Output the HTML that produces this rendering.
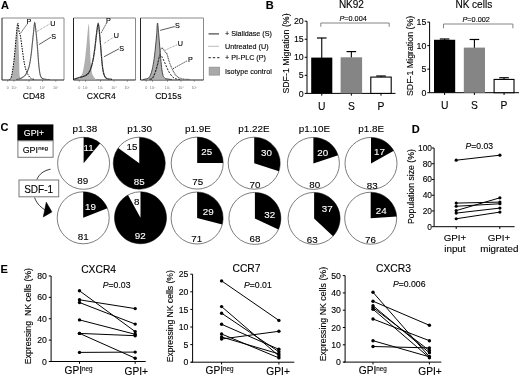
<!DOCTYPE html>
<html><head><meta charset="utf-8"><style>
html,body{margin:0;padding:0;background:#fff;}
svg{display:block;filter:blur(0.35px);}
text{font-family:"Liberation Sans",sans-serif;}
</style></head><body>
<svg width="520" height="377" viewBox="0 0 520 377">
<rect x="0" y="0" width="520" height="377" fill="#fff"/>
<text x="1.0" y="9.2" font-size="11" text-anchor="start" font-weight="bold" font-style="normal" fill="#000" stroke="#000" stroke-width="0.12" >A</text>
<text x="265.8" y="9.4" font-size="11" text-anchor="start" font-weight="bold" font-style="normal" fill="#000" stroke="#000" stroke-width="0.12" >B</text>
<text x="0.6" y="130.6" font-size="11" text-anchor="start" font-weight="bold" font-style="normal" fill="#000" stroke="#000" stroke-width="0.12" >C</text>
<text x="411.8" y="132.6" font-size="11" text-anchor="start" font-weight="bold" font-style="normal" fill="#000" stroke="#000" stroke-width="0.12" >D</text>
<text x="0.6" y="272.5" font-size="11" text-anchor="start" font-weight="bold" font-style="normal" fill="#000" stroke="#000" stroke-width="0.12" >E</text>
<line x1="2" y1="18" x2="64" y2="18" stroke="#8a8a8a" stroke-width="1" />
<line x1="64" y1="18" x2="64" y2="80" stroke="#8a8a8a" stroke-width="1" />
<line x1="2" y1="18" x2="2" y2="80" stroke="#222" stroke-width="1" />
<line x1="2" y1="80" x2="64" y2="80" stroke="#222" stroke-width="1.2" />
<line x1="73.5" y1="18" x2="135.5" y2="18" stroke="#8a8a8a" stroke-width="1" />
<line x1="135.5" y1="18" x2="135.5" y2="80" stroke="#8a8a8a" stroke-width="1" />
<line x1="73.5" y1="18" x2="73.5" y2="80" stroke="#222" stroke-width="1" />
<line x1="73.5" y1="80" x2="135.5" y2="80" stroke="#222" stroke-width="1.2" />
<line x1="140.5" y1="18" x2="203.5" y2="18" stroke="#8a8a8a" stroke-width="1" />
<line x1="203.5" y1="18" x2="203.5" y2="80" stroke="#8a8a8a" stroke-width="1" />
<line x1="140.5" y1="18" x2="140.5" y2="80" stroke="#222" stroke-width="1" />
<line x1="140.5" y1="80" x2="203.5" y2="80" stroke="#222" stroke-width="1.2" />
<line x1="7.7" y1="80" x2="7.7" y2="81.8" stroke="#555" stroke-width="0.6" />
<line x1="14" y1="80" x2="14" y2="81.8" stroke="#555" stroke-width="0.6" />
<line x1="29" y1="80" x2="29" y2="81.8" stroke="#555" stroke-width="0.6" />
<line x1="42.5" y1="80" x2="42.5" y2="81.8" stroke="#555" stroke-width="0.6" />
<line x1="55.8" y1="80" x2="55.8" y2="81.8" stroke="#555" stroke-width="0.6" />
<text x="7.7" y="89.4" font-size="3.7" text-anchor="middle" font-weight="normal" font-style="normal" fill="#777" stroke="#777" stroke-width="0" >0</text>
<text x="14" y="89.4" font-size="3.7" text-anchor="middle" font-weight="normal" font-style="normal" fill="#777" stroke="#777" stroke-width="0" >10²</text>
<text x="29" y="89.4" font-size="3.7" text-anchor="middle" font-weight="normal" font-style="normal" fill="#777" stroke="#777" stroke-width="0" >10³</text>
<text x="42.5" y="89.4" font-size="3.7" text-anchor="middle" font-weight="normal" font-style="normal" fill="#777" stroke="#777" stroke-width="0" >10⁴</text>
<text x="55.8" y="89.4" font-size="3.7" text-anchor="middle" font-weight="normal" font-style="normal" fill="#777" stroke="#777" stroke-width="0" >10⁵</text>
<line x1="79.2" y1="80" x2="79.2" y2="81.8" stroke="#555" stroke-width="0.6" />
<line x1="85.5" y1="80" x2="85.5" y2="81.8" stroke="#555" stroke-width="0.6" />
<line x1="100.5" y1="80" x2="100.5" y2="81.8" stroke="#555" stroke-width="0.6" />
<line x1="114.0" y1="80" x2="114.0" y2="81.8" stroke="#555" stroke-width="0.6" />
<line x1="127.3" y1="80" x2="127.3" y2="81.8" stroke="#555" stroke-width="0.6" />
<text x="79.2" y="89.4" font-size="3.7" text-anchor="middle" font-weight="normal" font-style="normal" fill="#777" stroke="#777" stroke-width="0" >0</text>
<text x="85.5" y="89.4" font-size="3.7" text-anchor="middle" font-weight="normal" font-style="normal" fill="#777" stroke="#777" stroke-width="0" >10²</text>
<text x="100.5" y="89.4" font-size="3.7" text-anchor="middle" font-weight="normal" font-style="normal" fill="#777" stroke="#777" stroke-width="0" >10³</text>
<text x="114.0" y="89.4" font-size="3.7" text-anchor="middle" font-weight="normal" font-style="normal" fill="#777" stroke="#777" stroke-width="0" >10⁴</text>
<text x="127.3" y="89.4" font-size="3.7" text-anchor="middle" font-weight="normal" font-style="normal" fill="#777" stroke="#777" stroke-width="0" >10⁵</text>
<line x1="146.2" y1="80" x2="146.2" y2="81.8" stroke="#555" stroke-width="0.6" />
<line x1="152.5" y1="80" x2="152.5" y2="81.8" stroke="#555" stroke-width="0.6" />
<line x1="167.5" y1="80" x2="167.5" y2="81.8" stroke="#555" stroke-width="0.6" />
<line x1="181.0" y1="80" x2="181.0" y2="81.8" stroke="#555" stroke-width="0.6" />
<line x1="194.3" y1="80" x2="194.3" y2="81.8" stroke="#555" stroke-width="0.6" />
<text x="146.2" y="89.4" font-size="3.7" text-anchor="middle" font-weight="normal" font-style="normal" fill="#777" stroke="#777" stroke-width="0" >0</text>
<text x="152.5" y="89.4" font-size="3.7" text-anchor="middle" font-weight="normal" font-style="normal" fill="#777" stroke="#777" stroke-width="0" >10²</text>
<text x="167.5" y="89.4" font-size="3.7" text-anchor="middle" font-weight="normal" font-style="normal" fill="#777" stroke="#777" stroke-width="0" >10³</text>
<text x="181.0" y="89.4" font-size="3.7" text-anchor="middle" font-weight="normal" font-style="normal" fill="#777" stroke="#777" stroke-width="0" >10⁴</text>
<text x="194.3" y="89.4" font-size="3.7" text-anchor="middle" font-weight="normal" font-style="normal" fill="#777" stroke="#777" stroke-width="0" >10⁵</text>
<text x="33.7" y="99.4" font-size="8.6" text-anchor="middle" font-weight="normal" font-style="normal" fill="#000" stroke="#000" stroke-width="0.12" >CD48</text>
<text x="101.3" y="99.4" font-size="8.6" text-anchor="middle" font-weight="normal" font-style="normal" fill="#000" stroke="#000" stroke-width="0.12" >CXCR4</text>
<text x="168.3" y="99.4" font-size="8.6" text-anchor="middle" font-weight="normal" font-style="normal" fill="#000" stroke="#000" stroke-width="0.12" >CD15s</text>
<path d="M9.50,79.50 C9.73,79.28 10.43,79.42 10.90,78.20 C11.37,76.98 11.82,74.93 12.30,72.20 C12.78,69.47 13.32,65.83 13.80,61.80 C14.28,57.77 14.77,52.60 15.20,48.00 C15.63,43.40 16.03,38.37 16.40,34.20 C16.77,30.03 17.12,23.00 17.40,23.00 C17.68,23.00 17.88,30.03 18.10,34.20 C18.32,38.37 18.52,43.40 18.70,48.00 C18.88,52.60 19.07,57.48 19.20,61.80 C19.33,66.12 19.30,71.17 19.50,73.90 C19.70,76.63 20.07,77.27 20.40,78.20 C20.73,79.13 21.32,79.28 21.50,79.50 Z" stroke="none" stroke-width="1" fill="#b0b0b0"  stroke-linejoin="round" />
<path d="M9.50,79.50 C9.73,79.28 10.43,79.42 10.90,78.20 C11.37,76.98 11.82,74.93 12.30,72.20 C12.78,69.47 13.32,65.83 13.80,61.80 C14.28,57.77 14.77,52.60 15.20,48.00 C15.63,43.40 15.97,38.37 16.40,34.20 C16.83,30.03 17.33,23.28 17.80,23.00 C18.27,22.72 18.77,30.33 19.20,32.50 C19.63,34.67 19.92,33.42 20.40,36.00 C20.88,38.58 21.53,43.98 22.10,48.00 C22.67,52.02 23.22,56.65 23.80,60.10 C24.38,63.55 24.88,66.25 25.60,68.70 C26.32,71.15 27.25,73.22 28.10,74.80 C28.95,76.38 29.68,77.43 30.70,78.20 C31.72,78.97 33.62,79.20 34.20,79.40" stroke="#000" stroke-width="1" fill="none" stroke-dasharray="1.5,1.1" stroke-linejoin="round" />
<path d="M16.00,79.50 C16.30,79.48 16.93,79.62 17.80,79.40 C18.67,79.18 19.90,78.97 21.20,78.20 C22.50,77.43 24.30,76.67 25.60,74.80 C26.90,72.93 28.08,70.32 29.00,67.00 C29.92,63.68 30.53,58.92 31.10,54.90 C31.67,50.88 31.97,46.92 32.40,42.90 C32.83,38.88 33.32,34.25 33.70,30.80 C34.08,27.35 34.33,22.20 34.70,22.20 C35.07,22.20 35.50,27.35 35.90,30.80 C36.30,34.25 36.75,38.88 37.10,42.90 C37.45,46.92 37.68,50.88 38.00,54.90 C38.32,58.92 38.63,63.68 39.00,67.00 C39.37,70.32 39.72,72.93 40.20,74.80 C40.68,76.67 41.03,77.43 41.90,78.20 C42.77,78.97 44.05,79.18 45.40,79.40 C46.75,79.62 49.23,79.48 50.00,79.50" stroke="#6a6a6a" stroke-width="1.1" fill="none"  stroke-linejoin="round" />
<path d="M16.00,79.50 C16.30,79.48 16.93,79.62 17.80,79.40 C18.67,79.18 19.90,78.97 21.20,78.20 C22.50,77.43 24.30,76.67 25.60,74.80 C26.90,72.93 28.08,70.32 29.00,67.00 C29.92,63.68 30.53,58.92 31.10,54.90 C31.67,50.88 31.97,46.92 32.40,42.90 C32.83,38.88 33.32,34.25 33.70,30.80 C34.08,27.35 34.33,22.20 34.70,22.20 C35.07,22.20 35.50,27.35 35.90,30.80 C36.30,34.25 36.75,38.88 37.10,42.90 C37.45,46.92 37.68,50.88 38.00,54.90 C38.32,58.92 38.63,63.68 39.00,67.00 C39.37,70.32 39.72,72.93 40.20,74.80 C40.68,76.67 41.03,77.43 41.90,78.20 C42.77,78.97 44.05,79.18 45.40,79.40 C46.75,79.62 49.23,79.48 50.00,79.50" stroke="#444" stroke-width="0.6" fill="none" stroke-dasharray="0.8,0.8" stroke-linejoin="round" />
<path d="M20.4,33.4 L27.3,23.9" stroke="#000" stroke-width="0.8" fill="none" stroke-dasharray="1.4,1" stroke-linejoin="round" />
<path d="M36.9,31.5 L49.5,24.1" stroke="#888" stroke-width="0.9" fill="none" stroke-dasharray="0.9,0.8" stroke-linejoin="round" />
<path d="M39.1,44.5 L51,37.1" stroke="#333" stroke-width="0.8" fill="none"  stroke-linejoin="round" />
<text x="29" y="24.3" font-size="7.2" text-anchor="middle" font-weight="normal" font-style="normal" fill="#000" stroke="#000" stroke-width="0.12" >P</text>
<text x="52.9" y="26.3" font-size="7.2" text-anchor="middle" font-weight="normal" font-style="normal" fill="#000" stroke="#000" stroke-width="0.12" >U</text>
<text x="53.7" y="39.3" font-size="7.2" text-anchor="middle" font-weight="normal" font-style="normal" fill="#000" stroke="#000" stroke-width="0.12" >S</text>
<path d="M78.50,79.50 C78.72,79.20 79.10,78.92 79.80,77.70 C80.50,76.48 81.85,75.13 82.70,72.20 C83.55,69.27 84.23,64.98 84.90,60.10 C85.57,55.22 86.07,48.93 86.70,42.90 C87.33,36.87 88.18,23.90 88.70,23.90 C89.22,23.90 89.48,36.87 89.80,42.90 C90.12,48.93 90.27,55.22 90.60,60.10 C90.93,64.98 91.17,69.27 91.80,72.20 C92.43,75.13 93.62,76.48 94.40,77.70 C95.18,78.92 96.15,79.20 96.50,79.50 Z" stroke="none" stroke-width="1" fill="#b0b0b0"  stroke-linejoin="round" />
<path d="M74.00,79.20 C74.82,78.95 76.93,78.30 78.90,77.70 C80.87,77.10 83.93,76.82 85.80,75.60 C87.67,74.38 88.90,72.98 90.10,70.40 C91.30,67.82 92.20,63.83 93.00,60.10 C93.80,56.37 94.32,52.32 94.90,48.00 C95.48,43.68 95.95,38.37 96.50,34.20 C97.05,30.03 97.68,23.00 98.20,23.00 C98.72,23.00 99.17,30.03 99.60,34.20 C100.03,38.37 100.43,43.68 100.80,48.00 C101.17,52.32 101.43,56.37 101.80,60.10 C102.17,63.83 102.50,67.67 103.00,70.40 C103.50,73.13 104.08,75.12 104.80,76.50 C105.52,77.88 106.10,78.23 107.30,78.70 C108.50,79.17 111.22,79.20 112.00,79.30" stroke="#111" stroke-width="1.2" fill="none"  stroke-linejoin="round" />
<path d="M74.00,79.20 C74.82,78.95 76.93,78.30 78.90,77.70 C80.87,77.10 83.93,76.82 85.80,75.60 C87.67,74.38 88.90,72.98 90.10,70.40 C91.30,67.82 92.20,63.83 93.00,60.10 C93.80,56.37 94.32,52.32 94.90,48.00 C95.48,43.68 95.95,38.37 96.50,34.20 C97.05,30.03 97.68,23.00 98.20,23.00 C98.72,23.00 99.17,30.03 99.60,34.20 C100.03,38.37 100.43,43.68 100.80,48.00 C101.17,52.32 101.43,56.37 101.80,60.10 C102.17,63.83 102.50,67.67 103.00,70.40 C103.50,73.13 104.08,75.12 104.80,76.50 C105.52,77.88 106.10,78.23 107.30,78.70 C108.50,79.17 111.22,79.20 112.00,79.30" stroke="#888" stroke-width="0.7" fill="none" stroke-dasharray="1.5,1.2" stroke-linejoin="round" />
<path d="M101.2,32.8 L106.6,23" stroke="#000" stroke-width="0.8" fill="none" stroke-dasharray="1.4,1" stroke-linejoin="round" />
<path d="M103.9,43.5 L113.7,37.2" stroke="#888" stroke-width="0.9" fill="none" stroke-dasharray="0.9,0.8" stroke-linejoin="round" />
<path d="M103.9,56.8 L119,48.8" stroke="#333" stroke-width="0.8" fill="none"  stroke-linejoin="round" />
<text x="108.4" y="23" font-size="7.2" text-anchor="middle" font-weight="normal" font-style="normal" fill="#000" stroke="#000" stroke-width="0.12" >P</text>
<text x="116.4" y="38.2" font-size="7.2" text-anchor="middle" font-weight="normal" font-style="normal" fill="#000" stroke="#000" stroke-width="0.12" >U</text>
<text x="121.7" y="50.6" font-size="7.2" text-anchor="middle" font-weight="normal" font-style="normal" fill="#000" stroke="#000" stroke-width="0.12" >S</text>
<path d="M147.00,79.50 C147.32,79.20 148.15,78.92 148.90,77.70 C149.65,76.48 150.70,74.85 151.50,72.20 C152.30,69.55 153.05,65.83 153.70,61.80 C154.35,57.77 154.90,52.60 155.40,48.00 C155.90,43.40 156.35,38.37 156.70,34.20 C157.05,30.03 157.17,23.00 157.50,23.00 C157.83,23.00 158.32,30.03 158.70,34.20 C159.08,38.37 159.42,43.40 159.80,48.00 C160.18,52.60 160.58,57.77 161.00,61.80 C161.42,65.83 161.87,69.55 162.30,72.20 C162.73,74.85 163.15,76.48 163.60,77.70 C164.05,78.92 164.77,79.20 165.00,79.50 Z" stroke="none" stroke-width="1" fill="#b0b0b0"  stroke-linejoin="round" />
<path d="M143.00,79.50 C143.40,79.42 144.42,79.30 145.40,79.00 C146.38,78.70 147.88,78.83 148.90,77.70 C149.92,76.57 150.70,74.85 151.50,72.20 C152.30,69.55 153.05,65.83 153.70,61.80 C154.35,57.77 154.90,52.60 155.40,48.00 C155.90,43.40 156.35,38.37 156.70,34.20 C157.05,30.03 157.17,23.00 157.50,23.00 C157.83,23.00 158.32,30.03 158.70,34.20 C159.08,38.37 159.42,43.40 159.80,48.00 C160.18,52.60 160.58,57.77 161.00,61.80 C161.42,65.83 161.78,69.55 162.30,72.20 C162.82,74.85 163.17,76.57 164.10,77.70 C165.03,78.83 166.58,78.70 167.90,79.00 C169.22,79.30 171.32,79.42 172.00,79.50" stroke="#3a3a3a" stroke-width="0.9" fill="none"  stroke-linejoin="round" />
<path d="M149.00,79.30 C149.55,79.03 151.02,79.47 152.30,77.70 C153.58,75.93 155.55,72.20 156.70,68.70 C157.85,65.20 158.55,59.85 159.20,56.70 C159.85,53.55 160.17,51.25 160.60,49.80 C161.03,48.35 161.17,47.87 161.80,48.00 C162.43,48.13 163.53,49.58 164.40,50.60 C165.27,51.62 166.28,52.52 167.00,54.10 C167.72,55.68 167.98,57.95 168.70,60.10 C169.42,62.25 170.28,64.70 171.30,67.00 C172.32,69.30 173.65,72.18 174.80,73.90 C175.95,75.62 176.77,76.45 178.20,77.30 C179.63,78.15 181.43,78.63 183.40,79.00 C185.37,79.37 188.90,79.42 190.00,79.50" stroke="#555" stroke-width="1.1" fill="none" stroke-dasharray="1.1,0.6" stroke-linejoin="round" />
<path d="M150.00,79.30 C150.53,79.03 152.08,79.75 153.20,77.70 C154.32,75.65 155.70,70.37 156.70,67.00 C157.70,63.63 158.55,59.52 159.20,57.50 C159.85,55.48 160.08,54.90 160.60,54.90 C161.12,54.90 161.67,56.35 162.30,57.50 C162.93,58.65 163.62,60.07 164.40,61.80 C165.18,63.53 166.13,66.03 167.00,67.90 C167.87,69.77 168.60,71.43 169.60,73.00 C170.60,74.57 171.85,76.30 173.00,77.30 C174.15,78.30 175.33,78.63 176.50,79.00 C177.67,79.37 179.42,79.42 180.00,79.50" stroke="#222" stroke-width="1" fill="none" stroke-dasharray="2,1.3" stroke-linejoin="round" />
<path d="M160.1,30.4 L174.8,26.5" stroke="#333" stroke-width="0.8" fill="none"  stroke-linejoin="round" />
<path d="M165.3,50.1 L177.3,44.6" stroke="#888" stroke-width="0.9" fill="none" stroke-dasharray="0.9,0.8" stroke-linejoin="round" />
<path d="M173,68.7 L186.8,61" stroke="#000" stroke-width="0.8" fill="none" stroke-dasharray="1.4,1" stroke-linejoin="round" />
<text x="177.3" y="27.9" font-size="7.2" text-anchor="middle" font-weight="normal" font-style="normal" fill="#000" stroke="#000" stroke-width="0.12" >S</text>
<text x="180.3" y="46.3" font-size="7.2" text-anchor="middle" font-weight="normal" font-style="normal" fill="#000" stroke="#000" stroke-width="0.12" >U</text>
<text x="190.3" y="61.8" font-size="7.2" text-anchor="middle" font-weight="normal" font-style="normal" fill="#000" stroke="#000" stroke-width="0.12" >P</text>
<line x1="208.5" y1="33.9" x2="219" y2="33.9" stroke="#333" stroke-width="1.1" />
<line x1="208.5" y1="46.3" x2="219" y2="46.3" stroke="#777" stroke-width="1" stroke-dasharray="1,1"/>
<line x1="208.5" y1="57.7" x2="219.5" y2="57.7" stroke="#222" stroke-width="1" stroke-dasharray="2.4,1.9"/>
<rect x="209.2" y="67.2" width="10.2" height="7.9" fill="#a9a9a9" stroke="#8f8f8f" stroke-width="0.8" />
<text x="225" y="36.4" font-size="7.2" text-anchor="start" font-weight="normal" font-style="normal" fill="#000" stroke="#000" stroke-width="0.12" >+ Sialidase (S)</text>
<text x="225" y="48.8" font-size="7.2" text-anchor="start" font-weight="normal" font-style="normal" fill="#000" stroke="#000" stroke-width="0.12" >Untreated (U)</text>
<text x="225" y="60.2" font-size="7.2" text-anchor="start" font-weight="normal" font-style="normal" fill="#000" stroke="#000" stroke-width="0.12" >+ PI-PLC (P)</text>
<text x="225" y="73.6" font-size="7.2" text-anchor="start" font-weight="normal" font-style="normal" fill="#000" stroke="#000" stroke-width="0.12" >Isotype control</text>
<line x1="307.0" y1="21.200000000000003" x2="307.0" y2="93.4" stroke="#000" stroke-width="1" />
<line x1="307.0" y1="93.4" x2="395.5" y2="93.4" stroke="#000" stroke-width="1" />
<line x1="304.7" y1="93.4" x2="307.0" y2="93.4" stroke="#000" stroke-width="1" />
<text x="303.7" y="96.5" font-size="8.8" text-anchor="end" font-weight="normal" font-style="normal" fill="#000" stroke="#000" stroke-width="0.12" >0</text>
<line x1="304.7" y1="75.35000000000001" x2="307.0" y2="75.35000000000001" stroke="#000" stroke-width="1" />
<text x="303.7" y="78.45" font-size="8.8" text-anchor="end" font-weight="normal" font-style="normal" fill="#000" stroke="#000" stroke-width="0.12" >5</text>
<line x1="304.7" y1="57.300000000000004" x2="307.0" y2="57.300000000000004" stroke="#000" stroke-width="1" />
<text x="303.7" y="60.400000000000006" font-size="8.8" text-anchor="end" font-weight="normal" font-style="normal" fill="#000" stroke="#000" stroke-width="0.12" >10</text>
<line x1="304.7" y1="39.25000000000001" x2="307.0" y2="39.25000000000001" stroke="#000" stroke-width="1" />
<text x="303.7" y="42.35000000000001" font-size="8.8" text-anchor="end" font-weight="normal" font-style="normal" fill="#000" stroke="#000" stroke-width="0.12" >15</text>
<line x1="304.7" y1="21.200000000000003" x2="307.0" y2="21.200000000000003" stroke="#000" stroke-width="1" />
<text x="303.7" y="24.300000000000004" font-size="8.8" text-anchor="end" font-weight="normal" font-style="normal" fill="#000" stroke="#000" stroke-width="0.12" >20</text>
<line x1="321.75" y1="58.09420000000001" x2="321.75" y2="37.98650000000001" stroke="#000" stroke-width="1.1" />
<line x1="316.95" y1="37.98650000000001" x2="326.55" y2="37.98650000000001" stroke="#000" stroke-width="1.2" />
<rect x="311.2" y="57.59420000000001" width="21.100000000000023" height="35.8058" fill="#000" stroke="none" stroke-width="1" />
<line x1="321.75" y1="93.4" x2="321.75" y2="95.7" stroke="#000" stroke-width="1" />
<line x1="351.35" y1="57.805400000000006" x2="351.35" y2="51.59620000000001" stroke="#000" stroke-width="1.1" />
<line x1="346.55" y1="51.59620000000001" x2="356.15000000000003" y2="51.59620000000001" stroke="#000" stroke-width="1.2" />
<rect x="340.6" y="57.305400000000006" width="21.5" height="36.0946" fill="#858585" stroke="none" stroke-width="1" />
<line x1="351.35" y1="93.4" x2="351.35" y2="95.7" stroke="#000" stroke-width="1" />
<line x1="381.0" y1="77.0828" x2="381.0" y2="75.99980000000001" stroke="#000" stroke-width="1.1" />
<line x1="376.2" y1="75.99980000000001" x2="385.8" y2="75.99980000000001" stroke="#000" stroke-width="1.2" />
<rect x="370.8" y="77.0828" width="20.399999999999977" height="16.3172" fill="#fff" stroke="#000" stroke-width="1.1" />
<line x1="381.0" y1="93.4" x2="381.0" y2="95.7" stroke="#000" stroke-width="1" />
<path d="M320.8,26.8 L320.8,23.0 L389.2,23.0 L389.2,26.8" stroke="#777" stroke-width="0.9" fill="none"  stroke-linejoin="round" />
<text x="353.1" y="20.8" font-size="7.3" text-anchor="middle" font-weight="normal" font-style="normal" fill="#000" stroke="#000" stroke-width="0.12" ><tspan font-style="italic">P</tspan>=0.004</text>
<text x="351.4" y="8.0" font-size="10.0" text-anchor="middle" font-weight="normal" font-style="normal" fill="#000" stroke="#000" stroke-width="0.12" >NK92</text>
<text x="289.1" y="53.5" font-size="8.8" text-anchor="middle" fill="#000" stroke="#000" stroke-width="0.12" transform="rotate(-90 289.1 53.5)">SDF-1 Migration (%)</text>
<text x="321.75" y="110.2" font-size="10.3" text-anchor="middle" font-weight="normal" font-style="normal" fill="#000" stroke="#000" stroke-width="0.12" >U</text>
<text x="351.35" y="110.2" font-size="10.3" text-anchor="middle" font-weight="normal" font-style="normal" fill="#000" stroke="#000" stroke-width="0.12" >S</text>
<text x="381.0" y="110.2" font-size="10.3" text-anchor="middle" font-weight="normal" font-style="normal" fill="#000" stroke="#000" stroke-width="0.12" >P</text>
<line x1="429.6" y1="22.049999999999997" x2="429.6" y2="92.7" stroke="#000" stroke-width="1" />
<line x1="429.6" y1="92.7" x2="519" y2="92.7" stroke="#000" stroke-width="1" />
<line x1="427.3" y1="92.7" x2="429.6" y2="92.7" stroke="#000" stroke-width="1" />
<text x="426.3" y="95.8" font-size="8.8" text-anchor="end" font-weight="normal" font-style="normal" fill="#000" stroke="#000" stroke-width="0.12" >0</text>
<line x1="427.3" y1="69.15" x2="429.6" y2="69.15" stroke="#000" stroke-width="1" />
<text x="426.3" y="72.25" font-size="8.8" text-anchor="end" font-weight="normal" font-style="normal" fill="#000" stroke="#000" stroke-width="0.12" >5</text>
<line x1="427.3" y1="45.6" x2="429.6" y2="45.6" stroke="#000" stroke-width="1" />
<text x="426.3" y="48.7" font-size="8.8" text-anchor="end" font-weight="normal" font-style="normal" fill="#000" stroke="#000" stroke-width="0.12" >10</text>
<line x1="427.3" y1="22.049999999999997" x2="429.6" y2="22.049999999999997" stroke="#000" stroke-width="1" />
<text x="426.3" y="25.15" font-size="8.8" text-anchor="end" font-weight="normal" font-style="normal" fill="#000" stroke="#000" stroke-width="0.12" >15</text>
<line x1="444.6" y1="40.2777" x2="444.6" y2="39.006" stroke="#000" stroke-width="1.1" />
<line x1="439.8" y1="39.006" x2="449.40000000000003" y2="39.006" stroke="#000" stroke-width="1.2" />
<rect x="434.0" y="39.7777" width="21.19999999999999" height="52.9223" fill="#000" stroke="none" stroke-width="1" />
<line x1="444.6" y1="92.7" x2="444.6" y2="95.0" stroke="#000" stroke-width="1" />
<line x1="474.4" y1="48.0963" x2="474.4" y2="39.477" stroke="#000" stroke-width="1.1" />
<line x1="469.59999999999997" y1="39.477" x2="479.2" y2="39.477" stroke="#000" stroke-width="1.2" />
<rect x="463.8" y="47.5963" width="21.19999999999999" height="45.1037" fill="#858585" stroke="none" stroke-width="1" />
<line x1="474.4" y1="92.7" x2="474.4" y2="95.0" stroke="#000" stroke-width="1" />
<line x1="504.05" y1="79.4178" x2="504.05" y2="77.7222" stroke="#000" stroke-width="1.1" />
<line x1="499.25" y1="77.7222" x2="508.85" y2="77.7222" stroke="#000" stroke-width="1.2" />
<rect x="494.1" y="79.4178" width="19.899999999999977" height="13.282200000000003" fill="#fff" stroke="#000" stroke-width="1.1" />
<line x1="504.05" y1="92.7" x2="504.05" y2="95.0" stroke="#000" stroke-width="1" />
<path d="M443.5,28.3 L443.5,24 L512.9,24 L512.9,28.3" stroke="#777" stroke-width="0.9" fill="none"  stroke-linejoin="round" />
<text x="476.2" y="21.9" font-size="7.3" text-anchor="middle" font-weight="normal" font-style="normal" fill="#000" stroke="#000" stroke-width="0.12" ><tspan font-style="italic">P</tspan>=0.002</text>
<text x="473.8" y="8.1" font-size="10.0" text-anchor="middle" font-weight="normal" font-style="normal" fill="#000" stroke="#000" stroke-width="0.12" >NK cells</text>
<text x="413.1" y="55.9" font-size="8.8" text-anchor="middle" fill="#000" stroke="#000" stroke-width="0.12" transform="rotate(-90 413.1 55.9)">SDF-1 Migration (%)</text>
<text x="444.6" y="108.7" font-size="10.3" text-anchor="middle" font-weight="normal" font-style="normal" fill="#000" stroke="#000" stroke-width="0.12" >U</text>
<text x="474.4" y="108.7" font-size="10.3" text-anchor="middle" font-weight="normal" font-style="normal" fill="#000" stroke="#000" stroke-width="0.12" >S</text>
<text x="504.05" y="108.7" font-size="10.3" text-anchor="middle" font-weight="normal" font-style="normal" fill="#000" stroke="#000" stroke-width="0.12" >P</text>
<text x="84.8" y="131.6" font-size="9.9" text-anchor="middle" font-weight="normal" font-style="normal" fill="#000" stroke="#000" stroke-width="0.12" >p1.38</text>
<text x="139.6" y="131.6" font-size="9.9" text-anchor="middle" font-weight="normal" font-style="normal" fill="#000" stroke="#000" stroke-width="0.12" >p1.30</text>
<text x="198.0" y="131.6" font-size="9.9" text-anchor="middle" font-weight="normal" font-style="normal" fill="#000" stroke="#000" stroke-width="0.12" >p1.9E</text>
<text x="254.0" y="131.6" font-size="9.9" text-anchor="middle" font-weight="normal" font-style="normal" fill="#000" stroke="#000" stroke-width="0.12" >p1.22E</text>
<text x="314.5" y="131.6" font-size="9.9" text-anchor="middle" font-weight="normal" font-style="normal" fill="#000" stroke="#000" stroke-width="0.12" >p1.10E</text>
<text x="371.1" y="131.6" font-size="9.9" text-anchor="middle" font-weight="normal" font-style="normal" fill="#000" stroke="#000" stroke-width="0.12" >p1.8E</text>
<circle cx="83.6" cy="163.3" r="26.0" fill="#fff" stroke="#6e6e6e" stroke-width="0.9"/>
<path d="M83.6,163.3 L83.6,137.3 A26.0,26.0 0 0 1 100.17,143.27 Z" fill="#000"/>
<text x="88.5" y="150.7" font-size="9.8" text-anchor="middle" font-weight="normal" font-style="normal" fill="#fff" stroke="#fff" stroke-width="0.12" >11</text>
<text x="82.8" y="183.9" font-size="9.8" text-anchor="middle" font-weight="normal" font-style="normal" fill="#000" stroke="#000" stroke-width="0.12" >89</text>
<circle cx="139.25" cy="163.2" r="26.0" fill="#fff" stroke="#6e6e6e" stroke-width="0.9"/>
<path d="M139.25,163.2 L139.25,137.2 A26.0,26.0 0 1 1 118.22,147.92 Z" fill="#000"/>
<text x="139.2" y="184.5" font-size="9.8" text-anchor="middle" font-weight="normal" font-style="normal" fill="#fff" stroke="#fff" stroke-width="0.12" >85</text>
<text x="131.9" y="149.9" font-size="9.8" text-anchor="middle" font-weight="normal" font-style="normal" fill="#000" stroke="#000" stroke-width="0.12" >15</text>
<circle cx="197.2" cy="163.1" r="26.0" fill="#fff" stroke="#6e6e6e" stroke-width="0.9"/>
<path d="M197.2,163.1 L197.2,137.1 A26.0,26.0 0 0 1 223.20,163.10 Z" fill="#000"/>
<text x="206.7" y="154.8" font-size="9.8" text-anchor="middle" font-weight="normal" font-style="normal" fill="#fff" stroke="#fff" stroke-width="0.12" >25</text>
<text x="197.7" y="185.2" font-size="9.8" text-anchor="middle" font-weight="normal" font-style="normal" fill="#000" stroke="#000" stroke-width="0.12" >75</text>
<circle cx="254.2" cy="163.2" r="26.0" fill="#fff" stroke="#6e6e6e" stroke-width="0.9"/>
<path d="M254.2,163.2 L254.2,137.2 A26.0,26.0 0 0 1 278.93,171.23 Z" fill="#000"/>
<text x="266.4" y="156.1" font-size="9.8" text-anchor="middle" font-weight="normal" font-style="normal" fill="#fff" stroke="#fff" stroke-width="0.12" >30</text>
<text x="255.0" y="188.0" font-size="9.8" text-anchor="middle" font-weight="normal" font-style="normal" fill="#000" stroke="#000" stroke-width="0.12" >70</text>
<circle cx="313.4" cy="163.4" r="26.0" fill="#fff" stroke="#6e6e6e" stroke-width="0.9"/>
<path d="M313.4,163.4 L313.4,137.4 A26.0,26.0 0 0 1 338.13,155.37 Z" fill="#000"/>
<text x="322.8" y="156.3" font-size="9.8" text-anchor="middle" font-weight="normal" font-style="normal" fill="#fff" stroke="#fff" stroke-width="0.12" >20</text>
<text x="314.7" y="187.8" font-size="9.8" text-anchor="middle" font-weight="normal" font-style="normal" fill="#000" stroke="#000" stroke-width="0.12" >80</text>
<circle cx="371.0" cy="163.4" r="26.0" fill="#fff" stroke="#6e6e6e" stroke-width="0.9"/>
<path d="M371.0,163.4 L371.0,137.4 A26.0,26.0 0 0 1 393.78,150.87 Z" fill="#000"/>
<text x="379.4" y="155.0" font-size="9.8" text-anchor="middle" font-weight="normal" font-style="normal" fill="#fff" stroke="#fff" stroke-width="0.12" >17</text>
<text x="372.2" y="188.6" font-size="9.8" text-anchor="middle" font-weight="normal" font-style="normal" fill="#000" stroke="#000" stroke-width="0.12" >83</text>
<circle cx="83.2" cy="217.8" r="26.0" fill="#fff" stroke="#6e6e6e" stroke-width="0.9"/>
<path d="M83.2,217.8 L83.2,191.8 A26.0,26.0 0 0 1 107.37,208.23 Z" fill="#000"/>
<text x="90.4" y="209.5" font-size="9.8" text-anchor="middle" font-weight="normal" font-style="normal" fill="#fff" stroke="#fff" stroke-width="0.12" >19</text>
<text x="83.2" y="239.6" font-size="9.8" text-anchor="middle" font-weight="normal" font-style="normal" fill="#000" stroke="#000" stroke-width="0.12" >81</text>
<circle cx="140.5" cy="217.8" r="26.0" fill="#fff" stroke="#6e6e6e" stroke-width="0.9"/>
<path d="M140.5,217.8 L140.5,191.8 A26.0,26.0 0 1 1 127.97,195.02 Z" fill="#000"/>
<text x="140.3" y="239.3" font-size="9.8" text-anchor="middle" font-weight="normal" font-style="normal" fill="#fff" stroke="#fff" stroke-width="0.12" >92</text>
<text x="136.7" y="204.7" font-size="9.8" text-anchor="middle" font-weight="normal" font-style="normal" fill="#000" stroke="#000" stroke-width="0.12" >8</text>
<circle cx="197.1" cy="218.0" r="26.0" fill="#fff" stroke="#6e6e6e" stroke-width="0.9"/>
<path d="M197.1,218.0 L197.1,192.0 A26.0,26.0 0 0 1 222.28,224.47 Z" fill="#000"/>
<text x="208.2" y="214.5" font-size="9.8" text-anchor="middle" font-weight="normal" font-style="normal" fill="#fff" stroke="#fff" stroke-width="0.12" >29</text>
<text x="196.7" y="241.8" font-size="9.8" text-anchor="middle" font-weight="normal" font-style="normal" fill="#000" stroke="#000" stroke-width="0.12" >71</text>
<circle cx="254.9" cy="218.4" r="26.0" fill="#fff" stroke="#6e6e6e" stroke-width="0.9"/>
<path d="M254.9,218.4 L254.9,192.4 A26.0,26.0 0 0 1 278.43,229.47 Z" fill="#000"/>
<text x="269.7" y="218.3" font-size="9.8" text-anchor="middle" font-weight="normal" font-style="normal" fill="#fff" stroke="#fff" stroke-width="0.12" >32</text>
<text x="255.0" y="242.0" font-size="9.8" text-anchor="middle" font-weight="normal" font-style="normal" fill="#000" stroke="#000" stroke-width="0.12" >68</text>
<circle cx="314.1" cy="218.4" r="26.0" fill="#fff" stroke="#6e6e6e" stroke-width="0.9"/>
<path d="M314.1,218.4 L314.1,192.4 A26.0,26.0 0 0 1 333.05,236.20 Z" fill="#000"/>
<text x="327.3" y="212.4" font-size="9.8" text-anchor="middle" font-weight="normal" font-style="normal" fill="#fff" stroke="#fff" stroke-width="0.12" >37</text>
<text x="312.3" y="242.6" font-size="9.8" text-anchor="middle" font-weight="normal" font-style="normal" fill="#000" stroke="#000" stroke-width="0.12" >63</text>
<circle cx="370.7" cy="218.2" r="26.0" fill="#fff" stroke="#6e6e6e" stroke-width="0.9"/>
<path d="M370.7,218.2 L370.7,192.2 A26.0,26.0 0 0 1 396.65,216.57 Z" fill="#000"/>
<text x="381.2" y="214.1" font-size="9.8" text-anchor="middle" font-weight="normal" font-style="normal" fill="#fff" stroke="#fff" stroke-width="0.12" >24</text>
<text x="370.5" y="243.0" font-size="9.8" text-anchor="middle" font-weight="normal" font-style="normal" fill="#000" stroke="#000" stroke-width="0.12" >76</text>
<rect x="17.4" y="124.4" width="36" height="16.4" fill="#000" stroke="none" stroke-width="1" />
<rect x="17.9" y="140.8" width="35.2" height="16.5" fill="#fff" stroke="#777" stroke-width="1" />
<text x="34" y="135.8" font-size="8.8" text-anchor="middle" font-weight="normal" font-style="normal" fill="#fff" stroke="#fff" stroke-width="0.12" >GPI+</text>
<text x="22.7" y="152.5" font-size="8.9" text-anchor="start" font-weight="normal" font-style="normal" fill="#000" stroke="#000" stroke-width="0.12" >GPI</text>
<text x="38.2" y="150.2" font-size="5.9" text-anchor="start" font-weight="normal" font-style="normal" fill="#000" stroke="#000" stroke-width="0.12" >neg</text>
<path d="M50.5,169.2 C44,170.5 39,174 36.9,179.5" stroke="#222" stroke-width="0.9" fill="none"  stroke-linejoin="round" />
<path d="M34.6,197.5 C36,202 39.5,206.5 44.8,209.8" stroke="#222" stroke-width="0.9" fill="none"  stroke-linejoin="round" />
<path d="M46.3,202.3 L51.9,211.9 L43.3,216.9 Z" stroke="#000" stroke-width="0.6" fill="#000"  stroke-linejoin="round" />
<rect x="19" y="180" width="39.7" height="16.8" fill="#fff" stroke="#777" stroke-width="1" />
<text x="38.6" y="192.9" font-size="10.0" text-anchor="middle" font-weight="normal" font-style="normal" fill="#000" stroke="#000" stroke-width="0.12" >SDF-1</text>
<line x1="434.1" y1="148.0" x2="434.1" y2="226.7" stroke="#000" stroke-width="1" />
<line x1="434.1" y1="226.7" x2="514.6" y2="226.7" stroke="#000" stroke-width="1" />
<line x1="431.8" y1="226.7" x2="434.1" y2="226.7" stroke="#000" stroke-width="1" />
<text x="432.0" y="229.7" font-size="8.4" text-anchor="end" font-weight="normal" font-style="normal" fill="#000" stroke="#000" stroke-width="0.12" >0</text>
<line x1="431.8" y1="210.95999999999998" x2="434.1" y2="210.95999999999998" stroke="#000" stroke-width="1" />
<text x="432.0" y="213.95999999999998" font-size="8.4" text-anchor="end" font-weight="normal" font-style="normal" fill="#000" stroke="#000" stroke-width="0.12" >20</text>
<line x1="431.8" y1="195.22" x2="434.1" y2="195.22" stroke="#000" stroke-width="1" />
<text x="432.0" y="198.22" font-size="8.4" text-anchor="end" font-weight="normal" font-style="normal" fill="#000" stroke="#000" stroke-width="0.12" >40</text>
<line x1="431.8" y1="179.48" x2="434.1" y2="179.48" stroke="#000" stroke-width="1" />
<text x="432.0" y="182.48" font-size="8.4" text-anchor="end" font-weight="normal" font-style="normal" fill="#000" stroke="#000" stroke-width="0.12" >60</text>
<line x1="431.8" y1="163.73999999999998" x2="434.1" y2="163.73999999999998" stroke="#000" stroke-width="1" />
<text x="432.0" y="166.73999999999998" font-size="8.4" text-anchor="end" font-weight="normal" font-style="normal" fill="#000" stroke="#000" stroke-width="0.12" >80</text>
<line x1="431.8" y1="148.0" x2="434.1" y2="148.0" stroke="#000" stroke-width="1" />
<text x="432.0" y="151.0" font-size="8.4" text-anchor="end" font-weight="normal" font-style="normal" fill="#000" stroke="#000" stroke-width="0.12" >100</text>
<line x1="456.2" y1="226.7" x2="456.2" y2="229.0" stroke="#000" stroke-width="1" />
<line x1="499.8" y1="226.7" x2="499.8" y2="229.0" stroke="#000" stroke-width="1" />
<line x1="456.2" y1="160.2" x2="499.9" y2="155.2" stroke="#000" stroke-width="1" />
<circle cx="456.2" cy="160.2" r="1.6" fill="#000"/>
<circle cx="499.9" cy="155.2" r="1.6" fill="#000"/>
<line x1="456.2" y1="203.1" x2="499.9" y2="202.1" stroke="#000" stroke-width="1" />
<circle cx="456.2" cy="203.1" r="1.6" fill="#000"/>
<circle cx="499.9" cy="202.1" r="1.6" fill="#000"/>
<line x1="456.2" y1="206.25" x2="499.9" y2="203.75" stroke="#000" stroke-width="1" />
<circle cx="456.2" cy="206.25" r="1.6" fill="#000"/>
<circle cx="499.9" cy="203.75" r="1.6" fill="#000"/>
<line x1="456.2" y1="210.6" x2="499.9" y2="197.8" stroke="#000" stroke-width="1" />
<circle cx="456.2" cy="210.6" r="1.6" fill="#000"/>
<circle cx="499.9" cy="197.8" r="1.6" fill="#000"/>
<line x1="456.2" y1="213.1" x2="499.9" y2="208.1" stroke="#000" stroke-width="1" />
<circle cx="456.2" cy="213.1" r="1.6" fill="#000"/>
<circle cx="499.9" cy="208.1" r="1.6" fill="#000"/>
<line x1="456.2" y1="218.75" x2="499.9" y2="212.1" stroke="#000" stroke-width="1" />
<circle cx="456.2" cy="218.75" r="1.6" fill="#000"/>
<circle cx="499.9" cy="212.1" r="1.6" fill="#000"/>
<text x="479.3" y="149.4" font-size="8.6" text-anchor="middle" font-weight="normal" font-style="normal" fill="#000" stroke="#000" stroke-width="0.12" ><tspan font-style="italic">P</tspan>=0.03</text>
<text x="413.6" y="186.6" font-size="8.7" text-anchor="middle" fill="#000" stroke="#000" stroke-width="0.12" transform="rotate(-90 413.6 186.6)">Population size (%)</text>
<text x="455.0" y="241.3" font-size="9.8" text-anchor="middle" font-weight="normal" font-style="normal" fill="#000" stroke="#000" stroke-width="0.12" >GPI+</text>
<text x="454.9" y="252.0" font-size="9.8" text-anchor="middle" font-weight="normal" font-style="normal" fill="#000" stroke="#000" stroke-width="0.12" >input</text>
<text x="499.0" y="241.3" font-size="9.8" text-anchor="middle" font-weight="normal" font-style="normal" fill="#000" stroke="#000" stroke-width="0.12" >GPI+</text>
<text x="499.3" y="252.0" font-size="9.8" text-anchor="middle" font-weight="normal" font-style="normal" fill="#000" stroke="#000" stroke-width="0.12" >migrated</text>
<line x1="51.1" y1="275.98" x2="51.1" y2="361.5" stroke="#000" stroke-width="1" />
<line x1="49.6" y1="361.5" x2="145.7" y2="361.5" stroke="#000" stroke-width="1" />
<line x1="48.800000000000004" y1="361.5" x2="51.1" y2="361.5" stroke="#000" stroke-width="1" />
<text x="46.9" y="364.6" font-size="8.7" text-anchor="end" font-weight="normal" font-style="normal" fill="#000" stroke="#000" stroke-width="0.12" >0</text>
<line x1="48.800000000000004" y1="340.12" x2="51.1" y2="340.12" stroke="#000" stroke-width="1" />
<text x="46.9" y="343.22" font-size="8.7" text-anchor="end" font-weight="normal" font-style="normal" fill="#000" stroke="#000" stroke-width="0.12" >20</text>
<line x1="48.800000000000004" y1="318.74" x2="51.1" y2="318.74" stroke="#000" stroke-width="1" />
<text x="46.9" y="321.84000000000003" font-size="8.7" text-anchor="end" font-weight="normal" font-style="normal" fill="#000" stroke="#000" stroke-width="0.12" >40</text>
<line x1="48.800000000000004" y1="297.36" x2="51.1" y2="297.36" stroke="#000" stroke-width="1" />
<text x="46.9" y="300.46000000000004" font-size="8.7" text-anchor="end" font-weight="normal" font-style="normal" fill="#000" stroke="#000" stroke-width="0.12" >60</text>
<line x1="48.800000000000004" y1="275.98" x2="51.1" y2="275.98" stroke="#000" stroke-width="1" />
<text x="46.9" y="279.08000000000004" font-size="8.7" text-anchor="end" font-weight="normal" font-style="normal" fill="#000" stroke="#000" stroke-width="0.12" >80</text>
<line x1="79.5" y1="361.5" x2="79.5" y2="363.8" stroke="#000" stroke-width="1" />
<line x1="135.2" y1="361.5" x2="135.2" y2="363.8" stroke="#000" stroke-width="1" />
<line x1="79.5" y1="290.8" x2="135.2" y2="331.6" stroke="#000" stroke-width="1" />
<line x1="79.5" y1="299.8" x2="135.2" y2="308.6" stroke="#000" stroke-width="1" />
<line x1="79.5" y1="302.5" x2="135.2" y2="324.1" stroke="#000" stroke-width="1" />
<line x1="79.5" y1="319.9" x2="135.2" y2="334.3" stroke="#000" stroke-width="1" />
<line x1="79.5" y1="333.4" x2="135.2" y2="335.7" stroke="#000" stroke-width="1" />
<line x1="79.5" y1="333.4" x2="135.2" y2="358.2" stroke="#000" stroke-width="1" />
<line x1="79.5" y1="352.4" x2="135.2" y2="352.1" stroke="#000" stroke-width="1" />
<circle cx="79.5" cy="290.8" r="1.7" fill="#000"/>
<circle cx="135.2" cy="331.6" r="1.7" fill="#000"/>
<circle cx="79.5" cy="299.8" r="1.7" fill="#000"/>
<circle cx="135.2" cy="308.6" r="1.7" fill="#000"/>
<circle cx="79.5" cy="302.5" r="1.7" fill="#000"/>
<circle cx="135.2" cy="324.1" r="1.7" fill="#000"/>
<circle cx="79.5" cy="319.9" r="1.7" fill="#000"/>
<circle cx="135.2" cy="334.3" r="1.7" fill="#000"/>
<circle cx="79.5" cy="333.4" r="1.7" fill="#000"/>
<circle cx="135.2" cy="335.7" r="1.7" fill="#000"/>
<circle cx="79.5" cy="333.4" r="1.7" fill="#000"/>
<circle cx="135.2" cy="358.2" r="1.7" fill="#000"/>
<circle cx="79.5" cy="352.4" r="1.7" fill="#000"/>
<circle cx="135.2" cy="352.1" r="1.7" fill="#000"/>
<text x="98.6" y="272.7" font-size="10.3" text-anchor="middle" font-weight="normal" font-style="normal" fill="#000" stroke="#000" stroke-width="0.12" >CXCR4</text>
<text x="116.6" y="287.6" font-size="8.7" text-anchor="middle" font-weight="normal" font-style="normal" fill="#000" stroke="#000" stroke-width="0.12" ><tspan font-style="italic">P</tspan>=0.03</text>
<text x="31.5" y="316.1" font-size="8.75" text-anchor="middle" fill="#000" stroke="#000" stroke-width="0.12" transform="rotate(-90 31.5 316.1)">Expressing&#160;&#160;NK cells (%)</text>
<text x="64.60000000000001" y="374.3" font-size="10.2" text-anchor="start" font-weight="normal" font-style="normal" fill="#000" stroke="#000" stroke-width="0.12" >GPI</text>
<text x="82.1" y="371.4" font-size="6.3" text-anchor="start" font-weight="normal" font-style="normal" fill="#000" stroke="#000" stroke-width="0.12" >neg</text>
<text x="136.3" y="374.5" font-size="10.2" text-anchor="middle" font-weight="normal" font-style="normal" fill="#000" stroke="#000" stroke-width="0.12" >GPI+</text>
<line x1="192.6" y1="274.2" x2="192.6" y2="362.2" stroke="#000" stroke-width="1" />
<line x1="191.1" y1="362.2" x2="294.3" y2="362.2" stroke="#000" stroke-width="1" />
<line x1="190.29999999999998" y1="362.2" x2="192.6" y2="362.2" stroke="#000" stroke-width="1" />
<text x="188.4" y="365.3" font-size="8.7" text-anchor="end" font-weight="normal" font-style="normal" fill="#000" stroke="#000" stroke-width="0.12" >0</text>
<line x1="190.29999999999998" y1="344.59999999999997" x2="192.6" y2="344.59999999999997" stroke="#000" stroke-width="1" />
<text x="188.4" y="347.7" font-size="8.7" text-anchor="end" font-weight="normal" font-style="normal" fill="#000" stroke="#000" stroke-width="0.12" >5</text>
<line x1="190.29999999999998" y1="327.0" x2="192.6" y2="327.0" stroke="#000" stroke-width="1" />
<text x="188.4" y="330.1" font-size="8.7" text-anchor="end" font-weight="normal" font-style="normal" fill="#000" stroke="#000" stroke-width="0.12" >10</text>
<line x1="190.29999999999998" y1="309.4" x2="192.6" y2="309.4" stroke="#000" stroke-width="1" />
<text x="188.4" y="312.5" font-size="8.7" text-anchor="end" font-weight="normal" font-style="normal" fill="#000" stroke="#000" stroke-width="0.12" >15</text>
<line x1="190.29999999999998" y1="291.79999999999995" x2="192.6" y2="291.79999999999995" stroke="#000" stroke-width="1" />
<text x="188.4" y="294.9" font-size="8.7" text-anchor="end" font-weight="normal" font-style="normal" fill="#000" stroke="#000" stroke-width="0.12" >20</text>
<line x1="190.29999999999998" y1="274.2" x2="192.6" y2="274.2" stroke="#000" stroke-width="1" />
<text x="188.4" y="277.3" font-size="8.7" text-anchor="end" font-weight="normal" font-style="normal" fill="#000" stroke="#000" stroke-width="0.12" >25</text>
<line x1="221.6" y1="362.2" x2="221.6" y2="364.5" stroke="#000" stroke-width="1" />
<line x1="278.9" y1="362.2" x2="278.9" y2="364.5" stroke="#000" stroke-width="1" />
<line x1="221.6" y1="280.9" x2="278.9" y2="320.4" stroke="#000" stroke-width="1" />
<line x1="221.6" y1="306.6" x2="278.9" y2="355.9" stroke="#000" stroke-width="1" />
<line x1="221.6" y1="313.2" x2="278.9" y2="351.8" stroke="#000" stroke-width="1" />
<line x1="221.6" y1="324.3" x2="278.9" y2="349.3" stroke="#000" stroke-width="1" />
<line x1="221.6" y1="334.0" x2="278.9" y2="357.9" stroke="#000" stroke-width="1" />
<line x1="221.6" y1="337.0" x2="278.9" y2="353.9" stroke="#000" stroke-width="1" />
<line x1="221.6" y1="339.0" x2="278.9" y2="331.3" stroke="#000" stroke-width="1" />
<circle cx="221.6" cy="280.9" r="1.7" fill="#000"/>
<circle cx="278.9" cy="320.4" r="1.7" fill="#000"/>
<circle cx="221.6" cy="306.6" r="1.7" fill="#000"/>
<circle cx="278.9" cy="355.9" r="1.7" fill="#000"/>
<circle cx="221.6" cy="313.2" r="1.7" fill="#000"/>
<circle cx="278.9" cy="351.8" r="1.7" fill="#000"/>
<circle cx="221.6" cy="324.3" r="1.7" fill="#000"/>
<circle cx="278.9" cy="349.3" r="1.7" fill="#000"/>
<circle cx="221.6" cy="334.0" r="1.7" fill="#000"/>
<circle cx="278.9" cy="357.9" r="1.7" fill="#000"/>
<circle cx="221.6" cy="337.0" r="1.7" fill="#000"/>
<circle cx="278.9" cy="353.9" r="1.7" fill="#000"/>
<circle cx="221.6" cy="339.0" r="1.7" fill="#000"/>
<circle cx="278.9" cy="331.3" r="1.7" fill="#000"/>
<text x="246.5" y="271.7" font-size="10.3" text-anchor="middle" font-weight="normal" font-style="normal" fill="#000" stroke="#000" stroke-width="0.12" >CCR7</text>
<text x="257.9" y="287.7" font-size="8.7" text-anchor="middle" font-weight="normal" font-style="normal" fill="#000" stroke="#000" stroke-width="0.12" ><tspan font-style="italic">P</tspan>=0.01</text>
<text x="172.8" y="316.2" font-size="8.6" text-anchor="middle" fill="#000" stroke="#000" stroke-width="0.12" transform="rotate(-90 172.8 316.2)">Expressing NK cells (%)</text>
<text x="205.5" y="374.3" font-size="10.2" text-anchor="start" font-weight="normal" font-style="normal" fill="#000" stroke="#000" stroke-width="0.12" >GPI</text>
<text x="223.0" y="371.4" font-size="6.3" text-anchor="start" font-weight="normal" font-style="normal" fill="#000" stroke="#000" stroke-width="0.12" >neg</text>
<text x="278.1" y="374.5" font-size="10.2" text-anchor="middle" font-weight="normal" font-style="normal" fill="#000" stroke="#000" stroke-width="0.12" >GPI+</text>
<line x1="345.1" y1="275.6" x2="345.1" y2="362.1" stroke="#000" stroke-width="1" />
<line x1="343.6" y1="362.1" x2="441.3" y2="362.1" stroke="#000" stroke-width="1" />
<line x1="342.8" y1="362.1" x2="345.1" y2="362.1" stroke="#000" stroke-width="1" />
<text x="340.90000000000003" y="365.20000000000005" font-size="8.7" text-anchor="end" font-weight="normal" font-style="normal" fill="#000" stroke="#000" stroke-width="0.12" >0</text>
<line x1="342.8" y1="344.8" x2="345.1" y2="344.8" stroke="#000" stroke-width="1" />
<text x="340.90000000000003" y="347.90000000000003" font-size="8.7" text-anchor="end" font-weight="normal" font-style="normal" fill="#000" stroke="#000" stroke-width="0.12" >10</text>
<line x1="342.8" y1="327.5" x2="345.1" y2="327.5" stroke="#000" stroke-width="1" />
<text x="340.90000000000003" y="330.6" font-size="8.7" text-anchor="end" font-weight="normal" font-style="normal" fill="#000" stroke="#000" stroke-width="0.12" >20</text>
<line x1="342.8" y1="310.20000000000005" x2="345.1" y2="310.20000000000005" stroke="#000" stroke-width="1" />
<text x="340.90000000000003" y="313.30000000000007" font-size="8.7" text-anchor="end" font-weight="normal" font-style="normal" fill="#000" stroke="#000" stroke-width="0.12" >30</text>
<line x1="342.8" y1="292.90000000000003" x2="345.1" y2="292.90000000000003" stroke="#000" stroke-width="1" />
<text x="340.90000000000003" y="296.00000000000006" font-size="8.7" text-anchor="end" font-weight="normal" font-style="normal" fill="#000" stroke="#000" stroke-width="0.12" >40</text>
<line x1="342.8" y1="275.6" x2="345.1" y2="275.6" stroke="#000" stroke-width="1" />
<text x="340.90000000000003" y="278.70000000000005" font-size="8.7" text-anchor="end" font-weight="normal" font-style="normal" fill="#000" stroke="#000" stroke-width="0.12" >50</text>
<line x1="373.0" y1="362.1" x2="373.0" y2="364.40000000000003" stroke="#000" stroke-width="1" />
<line x1="429.4" y1="362.1" x2="429.4" y2="364.40000000000003" stroke="#000" stroke-width="1" />
<line x1="373.0" y1="292.3" x2="429.4" y2="356.8" stroke="#000" stroke-width="1" />
<line x1="373.0" y1="301.2" x2="429.4" y2="325.3" stroke="#000" stroke-width="1" />
<line x1="373.0" y1="305.7" x2="429.4" y2="352.8" stroke="#000" stroke-width="1" />
<line x1="373.0" y1="307.6" x2="429.4" y2="350.5" stroke="#000" stroke-width="1" />
<line x1="373.0" y1="309.2" x2="429.4" y2="357.7" stroke="#000" stroke-width="1" />
<line x1="373.0" y1="319.0" x2="429.4" y2="340.7" stroke="#000" stroke-width="1" />
<line x1="373.0" y1="340.7" x2="429.4" y2="356.8" stroke="#000" stroke-width="1" />
<line x1="373.0" y1="346.5" x2="429.4" y2="347.9" stroke="#000" stroke-width="1" />
<circle cx="373.0" cy="292.3" r="1.7" fill="#000"/>
<circle cx="429.4" cy="356.8" r="1.7" fill="#000"/>
<circle cx="373.0" cy="301.2" r="1.7" fill="#000"/>
<circle cx="429.4" cy="325.3" r="1.7" fill="#000"/>
<circle cx="373.0" cy="305.7" r="1.7" fill="#000"/>
<circle cx="429.4" cy="352.8" r="1.7" fill="#000"/>
<circle cx="373.0" cy="307.6" r="1.7" fill="#000"/>
<circle cx="429.4" cy="350.5" r="1.7" fill="#000"/>
<circle cx="373.0" cy="309.2" r="1.7" fill="#000"/>
<circle cx="429.4" cy="357.7" r="1.7" fill="#000"/>
<circle cx="373.0" cy="319.0" r="1.7" fill="#000"/>
<circle cx="429.4" cy="340.7" r="1.7" fill="#000"/>
<circle cx="373.0" cy="340.7" r="1.7" fill="#000"/>
<circle cx="429.4" cy="356.8" r="1.7" fill="#000"/>
<circle cx="373.0" cy="346.5" r="1.7" fill="#000"/>
<circle cx="429.4" cy="347.9" r="1.7" fill="#000"/>
<text x="393.5" y="272.4" font-size="10.3" text-anchor="middle" font-weight="normal" font-style="normal" fill="#000" stroke="#000" stroke-width="0.12" >CXCR3</text>
<text x="409.2" y="287.4" font-size="8.7" text-anchor="middle" font-weight="normal" font-style="normal" fill="#000" stroke="#000" stroke-width="0.12" ><tspan font-style="italic">P</tspan>=0.006</text>
<text x="326.3" y="314.1" font-size="8.8" text-anchor="middle" fill="#000" stroke="#000" stroke-width="0.12" transform="rotate(-90 326.3 314.1)">Expressing NK cells (%)</text>
<text x="358.79999999999995" y="374.3" font-size="10.2" text-anchor="start" font-weight="normal" font-style="normal" fill="#000" stroke="#000" stroke-width="0.12" >GPI</text>
<text x="376.29999999999995" y="371.4" font-size="6.3" text-anchor="start" font-weight="normal" font-style="normal" fill="#000" stroke="#000" stroke-width="0.12" >neg</text>
<text x="430.0" y="374.5" font-size="10.2" text-anchor="middle" font-weight="normal" font-style="normal" fill="#000" stroke="#000" stroke-width="0.12" >GPI+</text>
</svg></body></html>
